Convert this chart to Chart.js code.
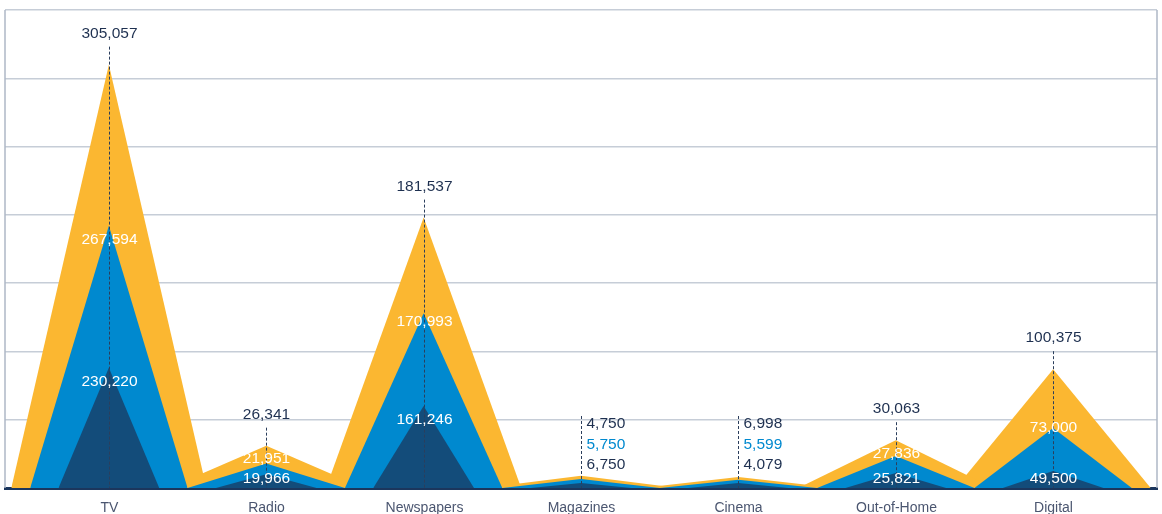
<!DOCTYPE html>
<html>
<head>
<meta charset="utf-8">
<script src="https://cdn.jsdelivr.net/npm/chart.js@4/dist/chart.umd.min.js"></script>
<style>
  html, body { margin: 0; padding: 0; background: #fff; }
</style>
</head>
<body>
<canvas id="myChart" width="1162" height="514"></canvas>
<script>
// categories along the bottom
var categories = ['TV', 'Radio', 'Newspapers', 'Magazines', 'Cinema', 'Out-of-Home', 'Digital'];

// peak heights as drawn (one gridline step = 50)
var orangeHeights = [310, 31, 198, 9, 8, 35, 87];
var blueHeights = [192, 18, 128, 6.5, 6, 23.5, 44];
var navyHeights = [88, 10, 60, 3.7, 3.7, 11, 12.5];

// printed values
var orangeLabels = ['305,057', '26,341', '181,537', '4,750', '6,998', '30,063', '100,375'];
var blueLabels = ['267,594', '21,951', '170,993', '5,750', '5,599', '27,836', '73,000'];
var navyLabels = ['230,220', '19,966', '161,246', '6,750', '4,079', '25,821', '49,500'];

var ORANGE = '#FBB731', BLUE = '#0089CF', NAVY = '#134C7A';
var TEXT_NAVY = '#1E3050';
var FONT = '"Liberation Sans", Arial, sans-serif';

// build one filled triangle per category
function triangles(heights, half, color, order) {
    return heights.map(function(h, i) {
        return {
            data: [{x: i - half, y: 0}, {x: i, y: h}, {x: i + half, y: 0}],
            backgroundColor: color,
            borderWidth: 0,
            pointRadius: 0,
            tension: 0,
            fill: 'origin',
            order: order
        };
    });
}

var datasets = []
    .concat(triangles(navyHeights, 0.32, NAVY, 0))
    .concat(triangles(blueHeights, 0.5, BLUE, 1))
    .concat(triangles(orangeHeights, 0.62, ORANGE, 2));

// frame, dashed leaders, value labels and category names
var labelPlugin = {
    id: 'peakLabels',
    beforeDatasetsDraw: function(chart) {
        var ctx = chart.ctx, a = chart.chartArea;
        ctx.save();
        ctx.strokeStyle = '#AEB8C6';
        ctx.lineWidth = 1.5;
        ctx.beginPath();
        ctx.moveTo(a.left, a.top); ctx.lineTo(a.left, a.bottom);
        ctx.moveTo(a.right, a.top); ctx.lineTo(a.right, a.bottom);
        ctx.stroke();
        ctx.restore();
    },
    afterDatasetsDraw: function(chart) {
        var ctx = chart.ctx, xs = chart.scales.x, ys = chart.scales.y;
        var base = ys.getPixelForValue(0);
        ctx.save();
        ctx.textBaseline = 'middle';
        for (var i = 0; i < categories.length; i++) {
            var x = Math.round(xs.getPixelForValue(i)) + 0.5;
            var side = orangeHeights[i] < 15;
            var topY = side ? base - 64 : ys.getPixelForValue(orangeHeights[i]) - 31;

            ctx.beginPath();
            ctx.setLineDash([3, 2]);
            ctx.lineWidth = 1;
            ctx.strokeStyle = '#2B3E5C';
            ctx.moveTo(x, side ? topY - 8 : topY + 13);
            ctx.lineTo(x, base);
            ctx.stroke();
            ctx.setLineDash([]);

            ctx.font = '15.5px ' + FONT;
            if (side) {
                ctx.textAlign = 'left';
                ctx.fillStyle = TEXT_NAVY;
                ctx.fillText(orangeLabels[i], x + 5, topY);
                ctx.fillStyle = BLUE;
                ctx.fillText(blueLabels[i], x + 5, topY + 21);
                ctx.fillStyle = TEXT_NAVY;
                ctx.fillText(navyLabels[i], x + 5, topY + 41);
            } else {
                ctx.textAlign = 'center';
                ctx.fillStyle = TEXT_NAVY;
                ctx.fillText(orangeLabels[i], x, topY);
                var ny = Math.min(ys.getPixelForValue(navyHeights[i]) + 14, base - 9);
                var bp = ys.getPixelForValue(blueHeights[i]);
                var by = Math.min(bp - 4 + 0.07 * (base - bp), ny - 20);
                ctx.fillStyle = '#FFFFFF';
                ctx.fillText(blueLabels[i], x, by);
                ctx.fillText(navyLabels[i], x, ny);
            }

            ctx.font = '14px ' + FONT;
            ctx.textAlign = 'center';
            ctx.fillStyle = '#4B5670';
            ctx.fillText(categories[i], x, base + 20);
        }
        ctx.restore();
    }
};

var ctx = document.getElementById('myChart').getContext('2d');
var myChart = new Chart(ctx, {
    type: 'line',
    data: { datasets: datasets },
    options: {
        responsive: false,
        animation: false,
        devicePixelRatio: 1,
        layout: { padding: { top: 10, left: 5, right: 5, bottom: 26 } },
        plugins: { legend: { display: false }, tooltip: { enabled: false } },
        scales: {
            x: {
                type: 'linear',
                min: -0.66,
                max: 6.66,
                z: 1,
                ticks: { display: false },
                grid: { display: false, drawTicks: false },
                border: { display: true, color: '#1B365D', width: 3 }
            },
            y: {
                min: 0,
                max: 350,
                ticks: { display: false, stepSize: 50 },
                grid: { color: '#C6CDD7', lineWidth: 1.5, drawTicks: false },
                border: { display: false }
            }
        }
    },
    plugins: [labelPlugin]
});
</script>
</body>
</html>
